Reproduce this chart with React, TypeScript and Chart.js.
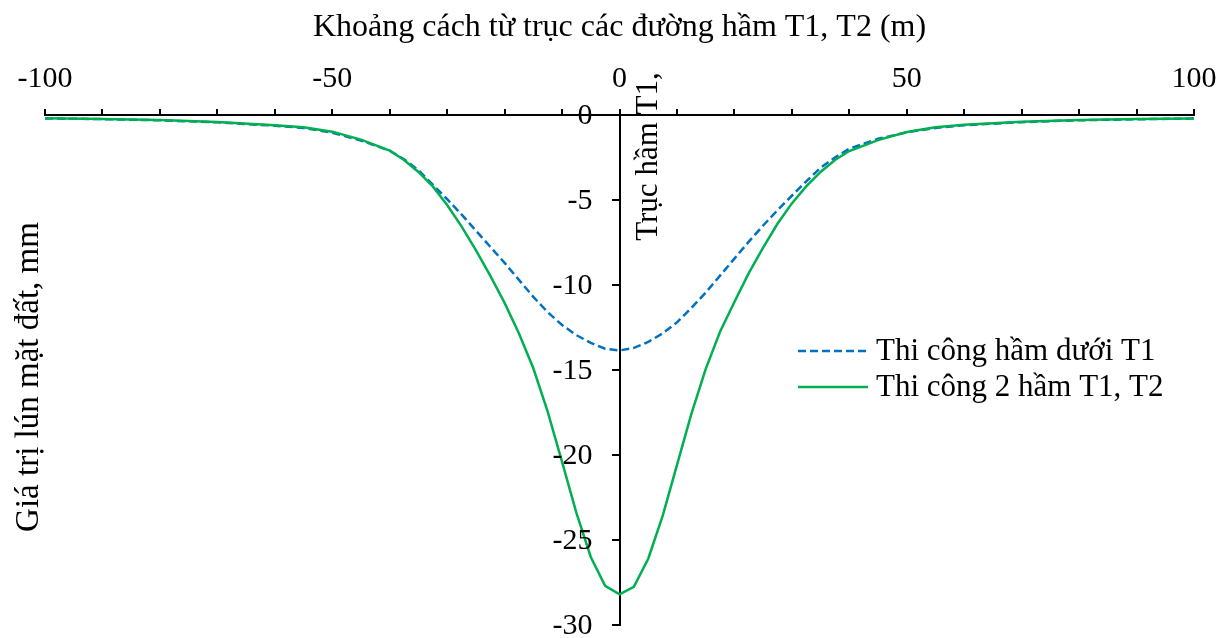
import { useEffect, useRef } from "react";
import { Chart, registerables } from "chart.js";

Chart.register(...registerables);

const FONT = '"Times New Roman", "Liberation Serif", serif';

// Distance from the tunnel axis (m)
const distances = [
  -100, -90, -80, -70, -60, -55, -50, -45, -40, -37.5, -35, -32.5, -30, -27.5, -25, -22.5, -20,
  -17.5, -15, -12.5, -10, -7.5, -5, -2.5, 0, 2.5, 5, 7.5, 10, 12.5, 15, 17.5, 20, 22.5, 25, 27.5,
  30, 32.5, 35, 37.5, 40, 45, 50, 55, 60, 70, 80, 90, 100,
];

// Surface settlement (mm) after driving tunnel T1 only
const settlementT1 = [
  -0.2, -0.24, -0.31, -0.43, -0.63, -0.76, -1.04, -1.5, -2.1, -2.6, -3.25, -4.1, -4.95, -5.85, -6.8,
  -7.75, -8.7, -9.7, -10.7, -11.6, -12.35, -12.95, -13.4, -13.75, -13.85, -13.7, -13.35, -12.85,
  -12.2, -11.35, -10.45, -9.45, -8.45, -7.45, -6.5, -5.6, -4.75, -3.9, -3.1, -2.5, -1.98, -1.4,
  -1.02, -0.76, -0.6, -0.42, -0.31, -0.25, -0.21,
];

// Surface settlement (mm) after driving both tunnels T1 and T2
const settlementT1T2 = [
  -0.19, -0.23, -0.3, -0.41, -0.6, -0.72, -0.98, -1.45, -2.1, -2.65, -3.35, -4.2, -5.3, -6.55, -7.95,
  -9.45, -11.05, -12.85, -14.9, -17.45, -20.4, -23.4, -26.0, -27.7, -28.2, -27.75, -26.1, -23.6, -20.6,
  -17.6, -14.95, -12.75, -11.0, -9.3, -7.8, -6.4, -5.2, -4.2, -3.35, -2.65, -2.12, -1.48, -1.0,
  -0.72, -0.57, -0.39, -0.29, -0.24, -0.2,
];

const seriesNames = ["Thi công hầm dưới T1", "Thi công 2 hầm T1, T2"];
const seriesColors = ["#0070C0", "#00B050"];

const labeledXTicks = [-100, -50, 0, 50, 100];
const xTitle = "Khoảng cách từ trục các đường hầm T1, T2 (m)";
const yTitle = "Giá trị lún mặt đất, mm";
const axisNote = "Trục hầm T1,";

const overlayPlugin = {
  id: "overlay",
  afterDraw(chart: any) {
    const { ctx } = chart;
    const xs = chart.scales.x;
    const ys = chart.scales.y;
    const axisX = xs.getPixelForValue(0);
    ctx.save();
    ctx.fillStyle = "#000";

    // y tick labels, to the left of the centred axis
    ctx.font = `30px ${FONT}`;
    ctx.textAlign = "right";
    ctx.textBaseline = "middle";
    ys.ticks.forEach((t: any) => {
      ctx.fillText(String(t.value), axisX - 27, ys.getPixelForValue(t.value) + 1);
    });

    // y axis title at the far left
    ctx.save();
    ctx.translate(29, 377);
    ctx.rotate(-Math.PI / 2);
    ctx.font = `33px ${FONT}`;
    ctx.textAlign = "center";
    ctx.textBaseline = "middle";
    ctx.fillText(yTitle, 0, 0);
    ctx.restore();

    // note along the tunnel axis
    ctx.save();
    ctx.translate(axisX + 37, ys.getPixelForValue(-7.4));
    ctx.rotate(-Math.PI / 2);
    ctx.font = `31px ${FONT}`;
    ctx.textAlign = "left";
    ctx.textBaseline = "alphabetic";
    ctx.fillText(axisNote, 0, 0);
    ctx.restore();

    // legend
    chart.data.datasets.forEach((ds: any, i: number) => {
      const y = 351 + i * 36;
      ctx.save();
      ctx.strokeStyle = ds.borderColor;
      ctx.lineWidth = ds.borderWidth;
      ctx.setLineDash(ds.borderDash || []);
      ctx.beginPath();
      ctx.moveTo(798, y);
      ctx.lineTo(868, y);
      ctx.stroke();
      ctx.restore();
      ctx.font = `31px ${FONT}`;
      ctx.textAlign = "left";
      ctx.textBaseline = "middle";
      ctx.fillStyle = "#000";
      ctx.fillText(ds.label, 876, y + 1);
    });
    ctx.restore();
  },
};

export default function App() {
  const canvasRef = useRef<HTMLCanvasElement | null>(null);

  useEffect(() => {
    document.body.style.margin = "0";
    const canvas = canvasRef.current;
    if (!canvas) return;

    const toPoints = (vals: number[]) => distances.map((x, i) => ({ x, y: vals[i] }));

    const chart = new Chart(canvas, {
      type: "line",
      data: {
        datasets: [
          {
            label: seriesNames[0],
            data: toPoints(settlementT1),
            borderColor: seriesColors[0],
            backgroundColor: seriesColors[0],
            borderWidth: 2.5,
            borderDash: [8, 4],
            pointRadius: 0,
            tension: 0,
            fill: false,
            order: 2,
          },
          {
            label: seriesNames[1],
            data: toPoints(settlementT1T2),
            borderColor: seriesColors[1],
            backgroundColor: seriesColors[1],
            borderWidth: 2.5,
            pointRadius: 0,
            tension: 0,
            fill: false,
            order: 1,
          },
        ],
      },
      options: {
        responsive: false,
        animation: false,
        devicePixelRatio: 1,
        layout: { padding: { left: 45, right: 38, top: 0, bottom: 13 } },
        plugins: {
          legend: { display: false },
          tooltip: { enabled: false },
        },
        scales: {
          x: {
            type: "linear",
            position: "top",
            min: -100,
            max: 100,
            ticks: {
              stepSize: 10,
              autoSkip: false,
              maxRotation: 0,
              padding: 12,
              color: "#000",
              font: { family: FONT, size: 30 },
              callback: (v: any) => {
                const n = Math.round(Number(v));
                return labeledXTicks.includes(n) ? String(n) : "";
              },
            },
            grid: {
              drawOnChartArea: false,
              drawTicks: true,
              tickLength: 6,
              color: "#000",
              lineWidth: 2,
            },
            border: { display: true, color: "#000", width: 2 },
            title: {
              display: true,
              text: xTitle,
              color: "#000",
              font: { family: FONT, size: 32 },
              padding: { top: 8, bottom: 0 },
            },
            afterFit: (scale: any) => {
              scale.height = 115;
            },
          },
          y: {
            type: "linear",
            position: { x: 0 },
            min: -30,
            max: 0,
            ticks: { stepSize: 5, display: false },
            grid: {
              drawOnChartArea: false,
              drawTicks: true,
              tickLength: 7,
              color: "#000",
              lineWidth: 2,
            },
            border: { display: true, color: "#000", width: 2 },
            afterFit: (scale: any) => {
              scale.paddingTop = 0;
              scale.paddingBottom = 0;
            },
          },
        },
      } as any,
      plugins: [overlayPlugin],
    });

    return () => chart.destroy();
  }, []);

  return (
    <div style={{ width: 1232, height: 638, background: "#fff" }}>
      <canvas ref={canvasRef} width={1232} height={638} style={{ display: "block" }} />
    </div>
  );
}
